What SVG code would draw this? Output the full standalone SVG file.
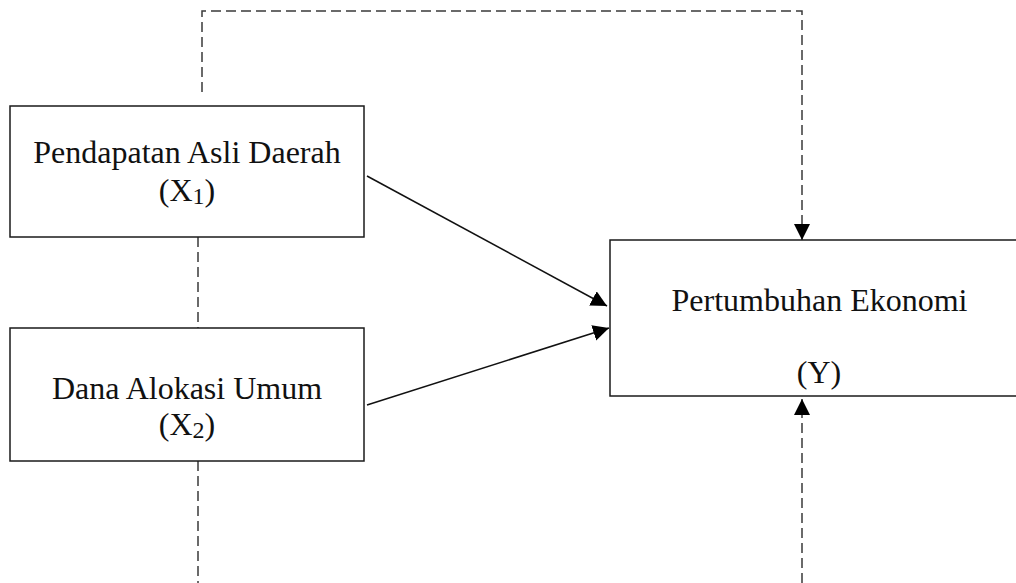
<svg xmlns="http://www.w3.org/2000/svg" width="1016" height="583" viewBox="0 0 1016 583">
  <defs>
    <style>
      .box { fill: #ffffff; stroke: #1a1a1a; stroke-width: 1.5; }
      .lbl { font-family: "Liberation Serif", "Times New Roman", serif; font-size: 32px; fill: #111111; text-anchor: middle; }
      .sub { font-size: 24px; }
      .solid { fill: none; stroke: #111111; stroke-width: 1.5; }
      .dash { fill: none; stroke: #3a3a3a; stroke-width: 1.5; stroke-dasharray: 10 5; }
    </style>
    <marker id="arrow" markerUnits="userSpaceOnUse" markerWidth="17" markerHeight="17" refX="16" refY="8" orient="auto">
      <path d="M0,0 L16,8 L0,16 Z" fill="#000000" stroke="none"/>
    </marker>
  </defs>
  <rect width="1016" height="583" fill="#ffffff"/>

  <g id="connectors">
    <path class="dash" d="M202,92 L202,11 L802,11 L802,240" marker-end="url(#arrow)"/>
    <path class="dash" d="M198,237 L198,328"/>
    <path class="dash" d="M198,461 L198,583"/>
    <path class="dash" d="M802,583 L802,399" marker-end="url(#arrow)"/>
    <path class="solid" d="M367,176 L607,306" marker-end="url(#arrow)"/>
    <path class="solid" d="M367,405 L609,328" marker-end="url(#arrow)"/>
  </g>

  <g id="node-x1">
    <rect class="box" x="10" y="106" width="354" height="131"/>
    <text class="lbl" x="187" y="163">Pendapatan Asli Daerah</text>
    <text class="lbl" x="187" y="201">(X<tspan class="sub" dy="3">1</tspan><tspan dy="-3">)</tspan></text>
  </g>

  <g id="node-x2">
    <rect class="box" x="10" y="328" width="354" height="133"/>
    <text class="lbl" x="187" y="399">Dana Alokasi Umum</text>
    <text class="lbl" x="187" y="435">(X<tspan class="sub" dy="3">2</tspan><tspan dy="-3">)</tspan></text>
  </g>

  <g id="node-y">
    <rect class="box" x="610" y="240" width="420" height="156"/>
    <text class="lbl" x="819.5" y="311">Pertumbuhan Ekonomi</text>
    <text class="lbl" x="819" y="383">(Y)</text>
  </g>
</svg>
